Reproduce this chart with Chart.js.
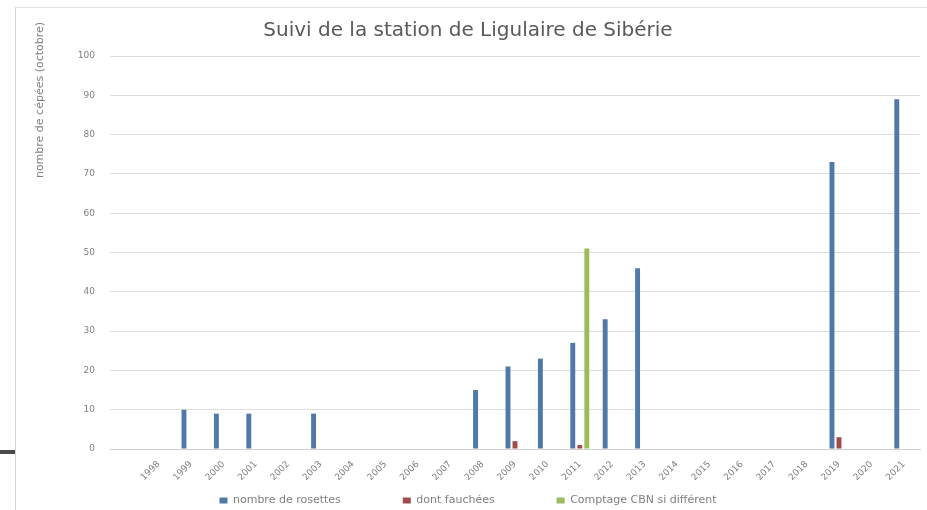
<!DOCTYPE html>
<html>
<head>
<meta charset="utf-8">
<script src="https://cdn.jsdelivr.net/npm/chart.js@4/dist/chart.umd.min.js"></script>
<style>
  body { margin: 0; background: #fff; width: 927px; height: 510px; overflow: hidden; position: relative; }
  #frame { position: absolute; left: 15px; top: 7px; width: 912px; height: 503px; border-left: 1px solid #d4d4d4; border-top: 1px solid #e4e4e4; }
  #mark { position: absolute; left: 0; top: 450px; width: 15px; height: 4px; background: #4a4a4a; }
  #wrap { position: absolute; left: 16px; top: 8px; width: 911px; height: 502px; }
</style>
</head>
<body>
<div id="frame"></div>
<div id="mark"></div>
<div id="wrap"><canvas id="chart"></canvas></div>
<script>
// categories (first slot is an empty year, as in the source sheet)
const years = ['', '1998', '1999', '2000', '2001', '2002', '2003', '2004', '2005', '2006', '2007',
  '2008', '2009', '2010', '2011', '2012', '2013', '2014', '2015', '2016', '2017',
  '2018', '2019', '2020', '2021'];

const rosettes = [null, null, 10, 9, 9, null, 9, null, null, null, null,
  15, 21, 23, 27, 33, 46, null, null, null, null, null, 73, null, 89];
const fauchees = [null, null, null, null, null, null, null, null, null, null, null,
  null, 2, null, 1, null, null, null, null, null, null, null, 3, null, null];
const comptageCBN = [null, null, null, null, null, null, null, null, null, null, null,
  null, null, null, 51, null, null, null, null, null, null, null, null, null, null];

const seriesNames = ['nombre de rosettes', 'dont fauchées', 'Comptage CBN si différent'];
const seriesColors = ['#4F79A8', '#A04C4C', '#9DBB5B'];

const yTicks = [0, 10, 20, 30, 40, 50, 60, 70, 80, 90, 100];
const yTitle = 'nombre de cépées (octobre)';

const grey = '#7f7f7f';
const font = 'DejaVu Sans';

// y title sits high up, like in the excel sheet
const yTitlePlugin = {
  id: 'yTitle',
  afterDraw(chart) {
    const ctx = chart.ctx;
    ctx.save();
    ctx.translate(24, 92);
    ctx.rotate(-Math.PI / 2);
    ctx.font = '11px ' + font;
    ctx.fillStyle = grey;
    ctx.textAlign = 'center';
    ctx.textBaseline = 'middle';
    ctx.fillText(yTitle, 0, 0);
    ctx.restore();
  },
};

// legend: small box in the layout, text drawn lower with wide gaps
const legendPlugin = {
  id: 'legendShift',
  afterInit(chart) {
    const fit = chart.legend.fit;
    chart.legend.fit = function () {
      fit.call(this);
      this.height = 22;
    };
  },
  afterLayout(chart) {
    const pad = chart.legend.options.labels.padding;
    chart.legend.top = 487 - pad;
  },
};

new Chart(document.getElementById('chart'), {
  type: 'bar',
  plugins: [yTitlePlugin, legendPlugin],
  data: {
    labels: years,
    datasets: [rosettes, fauchees, comptageCBN].map((d, i) => ({
      label: seriesNames[i],
      data: d,
      backgroundColor: seriesColors[i],
      categoryPercentage: 0.65,
      barPercentage: 0.7,
    })),
  },
  options: {
    responsive: true,
    maintainAspectRatio: false,
    animation: false,
    layout: { padding: { left: 0, right: 7, top: 0, bottom: 0 } },
    plugins: {
      title: {
        display: true,
        text: 'Suivi de la station de Ligulaire de Sibérie',
        color: '#595959',
        font: { family: font, size: 20, weight: 'normal' },
        padding: { top: 11, bottom: 13 },
      },
      legend: {
        position: 'bottom',
        labels: {
          color: grey,
          font: { family: font, size: 11 },
          boxWidth: 8,
          boxHeight: 6,
          padding: 62,
        },
      },
      tooltip: { enabled: false },
    },
    scales: {
      x: {
        afterFit: (axis) => { axis.height = 39; },
        grid: { display: false },
        border: { color: '#d0d0d0' },
        ticks: {
          color: grey,
          font: { family: font, size: 9 },
          maxRotation: 45,
          minRotation: 45,
          autoSkip: false,
          padding: 2,
        },
      },
      y: {
        min: 0,
        max: 100,
        afterFit: (axis) => { axis.width = 94; },
        afterBuildTicks: (axis) => { axis.ticks = yTicks.map((v) => ({ value: v })); },
        grid: { color: '#dedede', drawTicks: false },
        border: { display: false },
        ticks: {
          color: grey,
          font: { family: font, size: 9 },
          padding: 15,
        },
      },
    },
  },
});
</script>
</body>
</html>
